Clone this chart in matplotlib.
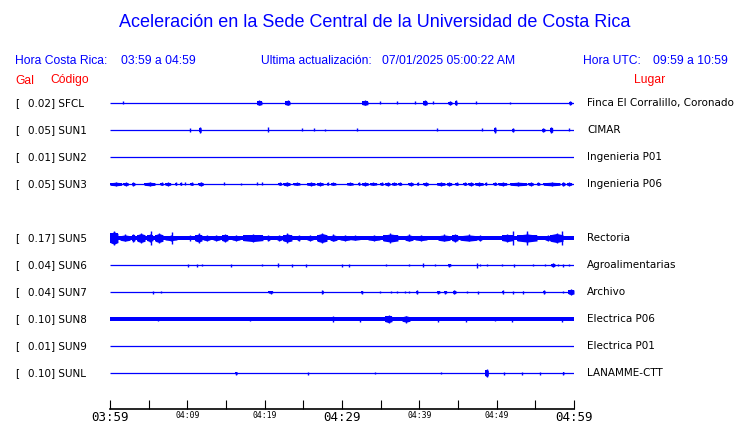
import numpy as np
import matplotlib.pyplot as plt
from matplotlib.transforms import blended_transform_factory

W, H = 740, 423

# station table
codes = ["SFCL", "SUN1", "SUN2", "SUN3", "SUN5", "SUN6", "SUN7", "SUN8", "SUN9", "SUNL"]
places = ["Finca El Corralillo, Coronado", "CIMAR", "Ingenieria P01", "Ingenieria P06",
          "Rectoria", "Agroalimentarias", "Archivo", "Electrica P06", "Electrica P01",
          "LANAMME-CTT"]
gal = [0.02, 0.05, 0.01, 0.05, 0.17, 0.04, 0.04, 0.10, 0.01, 0.10]
rows = [0, 1, 2, 3, 5, 6, 7, 8, 9, 10]  # slot 4 (SUN4) is empty
# background noise level of each trace (relative amplitude)
floor = [0.5, 0.5, 0.5, 0.5, 2.0, 0.5, 0.5, 1.7, 0.5, 0.5]

# events: (start minute, end minute, amplitude) after 03:59
sfcl = [(1.64, 1.64, 1.5), (19.0, 19.65, 2.5), (22.63, 23.28, 2.5), (32.59, 33.36, 2.5),
        (34.91, 34.91, 1.5), (37.07, 37.07, 1.5), (39.44, 39.44, 1.5), (40.43, 41.02, 2.5),
        (41.73, 41.73, 1.5), (43.71, 44.22, 2.0), (44.61, 44.87, 2.5), (47.29, 47.29, 1.5),
        (51.72, 51.72, 1.0), (59.35, 59.7, 2.0)]
sun1 = [(10.34, 10.34, 2.0), (11.55, 11.79, 3.0), (20.39, 20.39, 2.5), (24.79, 24.79, 1.5),
        (26.42, 26.42, 1.5), (27.84, 27.84, 1.0), (31.98, 31.98, 1.5), (42.25, 42.25, 1.5),
        (48.06, 48.06, 1.5), (49.69, 49.91, 3.0), (51.94, 52.24, 2.0), (55.82, 56.25, 2.0),
        (56.9, 57.25, 3.0), (59.39, 59.39, 1.5)]
sun2 = []
sun3 = [(0.0, 1.51, 2.0), (1.72, 2.37, 1.8), (2.81, 3.23, 1.8), (4.4, 5.82, 2.0),
        (6.47, 6.89, 1.5), (7.11, 7.85, 1.8), (8.41, 8.63, 1.5), (9.05, 9.27, 1.5),
        (9.7, 9.7, 1.5), (10.34, 10.77, 1.5), (11.42, 12.06, 2.0), (14.74, 14.74, 1.5),
        (16.9, 16.9, 1.0), (18.97, 18.97, 1.5), (19.62, 19.62, 1.5), (21.76, 22.2, 1.5),
        (22.41, 23.28, 2.0), (23.7, 24.57, 1.5), (25.44, 26.51, 1.8), (26.73, 27.58, 1.8),
        (28.02, 28.23, 1.5), (28.54, 29.22, 1.5), (30.61, 31.46, 1.5), (32.11, 32.33, 1.5),
        (32.55, 33.4, 1.8), (33.62, 34.49, 1.5), (34.91, 35.34, 1.5), (35.56, 36.21, 1.8),
        (36.43, 37.07, 1.5), (37.28, 37.72, 1.5), (38.57, 39.22, 1.8), (39.66, 39.87, 1.5),
        (40.51, 41.16, 1.8), (42.25, 43.32, 1.8), (43.54, 44.19, 1.8), (44.61, 45.04, 1.5),
        (45.69, 46.12, 1.5), (46.33, 46.98, 1.8), (47.2, 48.27, 1.8), (48.49, 48.71, 1.5),
        (49.56, 50.0, 1.5), (50.21, 51.3, 1.8), (51.72, 53.88, 2.0), (54.09, 54.74, 1.8),
        (55.18, 55.6, 1.5), (56.03, 58.19, 2.0), (58.41, 58.84, 2.0), (59.05, 59.7, 1.8)]
sun5 = [(0.0, 1.03, 7.0), (1.29, 2.59, 3.5), (2.84, 3.23, 4.0), (3.49, 4.53, 5.0),
        (4.78, 5.56, 4.0), (5.3, 5.3, 7.0), (5.82, 6.85, 5.0), (7.11, 8.66, 3.0),
        (8.02, 8.02, 6.0), (10.34, 10.34, 3.0), (10.99, 11.9, 4.5), (12.03, 12.93, 3.0),
        (13.32, 14.22, 3.0), (14.48, 15.26, 4.0), (15.78, 16.81, 3.0), (17.2, 19.78, 4.0),
        (20.3, 20.69, 3.0), (21.59, 22.24, 3.0), (22.37, 23.53, 4.5), (24.18, 24.57, 3.0),
        (25.47, 26.25, 3.0), (26.77, 28.06, 5.0), (28.45, 29.35, 3.5), (29.74, 31.03, 3.0),
        (31.03, 32.33, 2.5), (33.36, 34.91, 3.0), (35.3, 37.24, 4.5), (38.15, 39.18, 3.5),
        (39.44, 40.99, 3.0), (42.41, 43.97, 3.5), (44.22, 45.0, 4.0), (45.26, 47.46, 3.5),
        (47.59, 48.1, 3.0), (50.69, 52.11, 4.0), (52.11, 52.11, 7.0), (52.63, 55.22, 4.5),
        (53.92, 53.92, 7.0), (56.25, 56.9, 3.0), (56.9, 58.58, 5.0), (58.45, 58.45, 7.0)]
sun6 = [(10.05, 10.05, 1.5), (11.21, 11.21, 1.5), (11.93, 11.93, 1.0), (15.61, 15.61, 1.5),
        (19.62, 19.62, 1.0), (21.69, 21.69, 2.0), (23.5, 23.5, 1.5), (25.38, 25.38, 1.5),
        (29.96, 29.96, 1.5), (30.91, 30.91, 1.5), (35.65, 35.65, 1.0), (38.66, 38.66, 1.0),
        (40.43, 40.43, 2.0), (42.06, 42.06, 1.0), (43.67, 44.09, 1.5), (47.42, 47.42, 2.5),
        (47.84, 47.84, 1.0), (48.71, 48.71, 1.0), (50.65, 50.65, 1.0), (52.28, 52.28, 1.5),
        (54.74, 54.74, 1.0), (56.25, 56.25, 1.0), (57.03, 57.54, 2.0), (57.93, 57.93, 1.0),
        (58.54, 58.54, 1.5), (59.39, 59.39, 1.0)]
sun7 = [(5.6, 5.6, 1.5), (6.59, 6.59, 1.0), (20.47, 21.04, 1.5), (27.37, 27.58, 2.0),
        (32.42, 32.68, 1.5), (34.91, 34.91, 1.0), (36.34, 36.34, 1.0), (37.07, 37.07, 1.0),
        (38.15, 38.15, 1.0), (38.66, 38.66, 1.0), (39.57, 39.79, 2.0), (42.25, 42.67, 1.5),
        (43.19, 43.54, 1.5), (44.31, 44.74, 2.0), (46.12, 46.12, 1.0), (47.55, 47.55, 1.5),
        (50.73, 50.86, 2.0), (52.15, 52.15, 1.5), (53.37, 53.45, 1.5), (56.03, 56.25, 2.0),
        (58.54, 58.54, 1.0), (59.26, 60.0, 3.0)]
sun8 = [(6.25, 6.25, 2.0), (18.1, 18.1, 2.0), (28.84, 28.84, 3.0), (32.33, 32.33, 2.5),
        (35.56, 36.47, 4.0), (37.76, 38.79, 3.5), (42.45, 42.45, 2.5), (46.0, 46.0, 2.5),
        (49.78, 49.78, 2.0), (51.94, 51.94, 2.5), (58.49, 58.49, 2.5)]
sun9 = []
sunl = [(16.2, 16.46, 1.5), (25.56, 25.56, 1.5), (34.27, 34.27, 1.0), (42.76, 42.76, 1.0),
        (48.49, 48.92, 4.0), (50.95, 50.95, 1.5), (53.32, 53.32, 1.5), (55.6, 55.6, 1.5),
        (58.54, 58.71, 1.5)]
events = [sfcl, sun1, sun2, sun3, sun5, sun6, sun7, sun8, sun9, sunl]

tick_minutes = list(range(0, 61, 5))
tick_labels = ["03:59", "", "04:09", "", "04:19", "", "04:29", "", "04:39", "", "04:49", "", "04:59"]
big_labels = ["03:59", "04:29", "04:59"]

BLUE = "#0000ff"
RED = "#ff0000"

fig = plt.figure(figsize=(W / 100, H / 100), dpi=100)


def fx(x):
    return x / W


def fy(y):
    return 1 - y / H


# trace area: rows are 27 px apart
ax = fig.add_axes([fx(110), fy(386.5), 464 / W, 297 / H])
ax.set_xlim(0, 60)
ax.set_ylim(10.5, -0.5)
ax.axis("off")
k = 1 / 27.0  # relative amplitude -> row units

for r, fl, ev in zip(rows, floor, events):
    ax.plot([0, 60], [r, r], color=BLUE, lw=0.9, solid_capstyle="butt")
    if fl > 0.5:
        ax.fill_between([0, 60], r - fl * k, r + fl * k, color=BLUE, lw=0)
    for t0, t1, a in ev:
        if t1 > t0:
            # burst: body plus a taper towards the peak in the middle
            tm = (t0 + t1) / 2
            ax.fill_between([t0, t1], r - 0.65 * a * k, r + 0.65 * a * k, color=BLUE, lw=0)
            ax.fill_between([t0, tm, t1], [r - 0.65 * a * k, r - 0.9 * a * k, r - 0.65 * a * k],
                            [r + 0.65 * a * k, r + 0.9 * a * k, r + 0.65 * a * k], color=BLUE, lw=0)
        ax.vlines((t0 + t1) / 2, r - a * k, r + a * k, color=BLUE, lw=1.0)

# labels left and right of each trace
tr = blended_transform_factory(fig.transFigure, ax.transData)
for r, g, c, p in zip(rows, gal, codes, places):
    ax.text(fx(15), r, "[", transform=tr, va="center", ha="left", fontsize=7.5, family="DejaVu Sans")
    ax.text(fx(27.7), r, f"{g:.2f}] {c}", transform=tr, va="center", ha="left",
            fontsize=7.5, family="DejaVu Sans")
    ax.text(fx(587), r, p, transform=tr, va="center", ha="left", fontsize=7.5, family="DejaVu Sans")

# time axis
ax_t = fig.add_axes([fx(110), fy(409), 464 / W, 0.04])
ax_t.set_facecolor("none")
for s in ["top", "left", "right"]:
    ax_t.spines[s].set_visible(False)
ax_t.spines["bottom"].set_linewidth(1.2)
ax_t.set_xlim(0, 60)
ax_t.set_yticks([])
ax_t.set_xticks(tick_minutes)
ax_t.set_xticklabels(tick_labels)
ax_t.tick_params(axis="x", direction="in", length=6.5, width=0.8, pad=1.5)
for lab in ax_t.get_xticklabels():
    lab.set_family("DejaVu Sans Mono")
    lab.set_fontsize(9 if lab.get_text() in big_labels else 5.9)

# header texts
fig.text(fx(375), fy(22.5), "Aceleración en la Sede Central de la Universidad de Costa Rica",
         ha="center", va="center", color=BLUE, fontsize=13, family="Liberation Sans")
hdr = dict(va="center", ha="left", color=BLUE, fontsize=8.7, family="Liberation Sans")
fig.text(fx(15), fy(61), "Hora Costa Rica:", **hdr)
fig.text(fx(120.7), fy(61), "03:59 a 04:59", **hdr)
fig.text(fx(260.7), fy(61), "Ultima actualización:", **hdr)
fig.text(fx(381.5), fy(61), "07/01/2025 05:00:22 AM", **hdr)
fig.text(fx(583), fy(61), "Hora UTC:", **hdr)
fig.text(fx(653), fy(61), "09:59 a 10:59", **hdr)
red = dict(hdr, color=RED)
fig.text(fx(15), fy(80.5), "Gal", **red)
fig.text(fx(50), fy(80.5), "Código", **red)
fig.text(fx(633.6), fy(80.5), "Lugar", **red)

fig.savefig("out.png", dpi=100)
